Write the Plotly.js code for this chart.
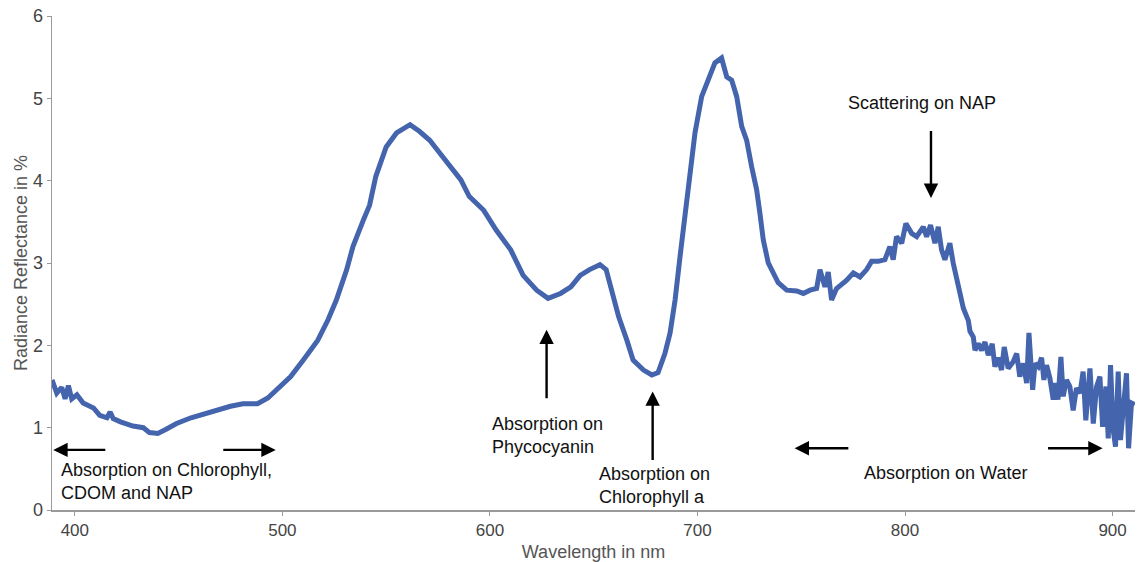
<!DOCTYPE html>
<html>
<head>
<meta charset="utf-8">
<script src="https://cdn.plot.ly/plotly-3.0.1.min.js"></script>
<style>html,body{margin:0;padding:0;background:#fff;}#chart{width:1138px;height:562px;}</style>
</head>
<body>
<div id="chart"></div>
<script>
// Wavelength (nm)
const wavelength = [389, 391.3, 393.7, 395.3, 396.9, 398.5, 401, 404, 409, 412, 415.5, 417, 418.5, 422, 428, 433, 436, 440, 444, 449, 456, 460, 467, 475, 481, 488, 493, 497, 504, 510, 517, 522, 526, 531, 534, 539, 542, 545, 550, 555, 561.5, 566, 571, 576, 581, 586, 590, 597, 603, 610, 616, 622.5, 628, 634, 639, 643.5, 648, 653, 656, 659, 662, 666, 669, 674, 678, 681, 684.3, 686.8, 689.2, 691.6, 694, 696.4, 698.8, 702, 705.2, 708.4, 711.6, 714.1, 716.5, 718.9, 721.3, 723.7, 726.1, 728.5, 730.1, 731.7, 734.1, 736.5, 738.9, 743, 747.8, 751, 754.2, 757.4, 759, 761.4, 763, 764.6, 767, 771.9, 775.1, 778.3, 781.5, 783.9, 787.1, 790.3, 792.7, 794.3, 795.9, 798.4, 800.4, 803.2, 805.6, 808.8, 810.4, 812.3, 814.4, 816, 817.6, 819.2, 821.6, 823.2, 825.6, 828.1, 830.5, 831.3, 832.9, 833.7, 835.3, 836.9, 838.5, 840.1, 842, 843.3, 844.9, 846.5, 847.8, 849.7, 852.1, 853.8, 855.3, 857, 858.6, 859.7, 861.5, 862.6, 864.2, 865.8, 866.9, 868.2, 869.8, 871.4, 872.6, 873.7, 875.1, 876.2, 877.8, 879.4, 881, 882.6, 884.3, 885.8, 887.1, 889.1, 890.7, 892.3, 893.9, 895.2, 896.8, 897.9, 899, 900.3, 901.4, 902.7, 903.8, 905.1, 906.7, 907.7, 909.1, 910.7];
// Radiance reflectance (%)
const reflectance = [1.58, 1.42, 1.49, 1.35, 1.51, 1.35, 1.40, 1.30, 1.24, 1.15, 1.12, 1.19, 1.11, 1.07, 1.02, 1.00, 0.94, 0.93, 0.98, 1.05, 1.12, 1.15, 1.21, 1.26, 1.29, 1.29, 1.36, 1.46, 1.62, 1.82, 2.06, 2.31, 2.55, 2.92, 3.20, 3.52, 3.70, 4.05, 4.41, 4.58, 4.68, 4.60, 4.49, 4.33, 4.17, 4.01, 3.81, 3.64, 3.40, 3.16, 2.85, 2.67, 2.57, 2.63, 2.71, 2.85, 2.92, 2.98, 2.92, 2.63, 2.35, 2.06, 1.82, 1.70, 1.64, 1.67, 1.90, 2.15, 2.55, 3.08, 3.61, 4.09, 4.58, 5.02, 5.22, 5.43, 5.49, 5.26, 5.22, 5.02, 4.66, 4.49, 4.17, 3.89, 3.60, 3.28, 3.00, 2.88, 2.76, 2.67, 2.66, 2.63, 2.67, 2.69, 2.92, 2.71, 2.89, 2.55, 2.69, 2.79, 2.88, 2.83, 2.92, 3.02, 3.02, 3.04, 3.20, 3.04, 3.32, 3.24, 3.48, 3.36, 3.32, 3.44, 3.32, 3.46, 3.24, 3.44, 3.16, 3.04, 3.24, 3.00, 2.71, 2.45, 2.30, 2.17, 2.10, 1.94, 2.02, 1.94, 2.04, 1.88, 2.02, 1.74, 1.85, 1.70, 1.98, 1.72, 1.80, 1.90, 1.62, 1.78, 1.54, 2.15, 1.46, 1.78, 1.74, 1.85, 1.58, 1.76, 1.60, 1.34, 1.54, 1.34, 1.86, 1.38, 1.58, 1.50, 1.21, 1.48, 1.42, 1.68, 1.09, 1.72, 1.05, 1.50, 1.62, 1.01, 1.50, 0.87, 1.76, 0.97, 0.77, 1.68, 0.85, 1.21, 1.66, 0.75, 1.30, 1.28];

const xTicks = [400, 500, 600, 700, 800, 900];
const yTicks = [0, 1, 2, 3, 4, 5, 6];

// Annotation labels
const labels = [
  {text: 'Absorption on Chlorophyll,<br>CDOM and NAP', x: 392.6, y: 0.35, xanchor: 'left'},
  {text: 'Absorption on<br>Phycocyanin', x: 600.0, y: 0.90, xanchor: 'left'},
  {text: 'Absorption on<br>Chlorophyll a', x: 651.5, y: 0.30, xanchor: 'left'},
  {text: 'Absorption on Water', x: 819.5, y: 0.45, xanchor: 'center'},
  {text: 'Scattering on NAP', x: 808.1, y: 4.94, xanchor: 'center'}
];
// Arrows: tail (ax, ay) -> head (x, y)
const arrows = [
  {ax: 415.4, ay: 0.73, x: 389.6, y: 0.73},
  {ax: 470.8, ay: 0.73, x: 496.8, y: 0.73},
  {ax: 627.3, ay: 1.34, x: 627.3, y: 2.19},
  {ax: 678.4, ay: 0.59, x: 678.4, y: 1.44},
  {ax: 773.4, ay: 0.75, x: 746.8, y: 0.75},
  {ax: 868.2, ay: 0.75, x: 895.2, y: 0.75},
  {ax: 812.5, ay: 4.62, x: 812.5, y: 3.79}
];

const FONT = '"Liberation Sans", Arial, Helvetica, sans-serif';

const annotations = labels.map(l => ({
  text: l.text, x: l.x, y: l.y, xref: 'x', yref: 'y',
  xanchor: l.xanchor, yanchor: 'middle', align: 'left',
  showarrow: false, font: {family: FONT, size: 18, color: '#111'}
})).concat(arrows.map(a => ({
  text: '', x: a.x, y: a.y, ax: a.ax, ay: a.ay,
  xref: 'x', yref: 'y', axref: 'x', ayref: 'y',
  showarrow: true, arrowhead: 2, arrowsize: 1.2, arrowwidth: 2.4, arrowcolor: '#000', standoff: 0
})));

const trace = {
  x: wavelength, y: reflectance, type: 'scatter', mode: 'lines',
  line: {color: '#4464ad', width: 5}, hoverinfo: 'skip'
};

const layout = {
  width: 1138, height: 562,
  margin: {l: 52, r: 3, t: 16, b: 52},
  paper_bgcolor: '#fff', plot_bgcolor: '#fff',
  showlegend: false,
  font: {family: FONT, size: 18, color: '#444'},
  xaxis: {
    range: [389, 910.8], tickvals: xTicks, ticktext: xTicks.map(String),
    showgrid: false, zeroline: false, showline: true, linecolor: '#999', linewidth: 1.5,
    ticks: 'outside', ticklen: 4, tickcolor: '#999', tickwidth: 1,
    tickfont: {family: FONT, size: 17, color: '#444'},
    title: {text: 'Wavelength in nm', font: {family: FONT, size: 18, color: '#555'}, standoff: 6}
  },
  yaxis: {
    range: [0, 6], tickvals: yTicks, ticktext: yTicks.map(String),
    showgrid: false, zeroline: false, showline: true, linecolor: '#999', linewidth: 1.5,
    ticks: 'outside', ticklen: 4, tickcolor: '#999', tickwidth: 1,
    tickfont: {family: FONT, size: 18, color: '#444'},
    title: {text: 'Radiance Reflectance in %', font: {family: FONT, size: 18, color: '#555'}, standoff: 0}
  },
  annotations: annotations
};

Plotly.newPlot('chart', [trace], layout, {staticPlot: true, displayModeBar: false});
</script>
</body>
</html>
